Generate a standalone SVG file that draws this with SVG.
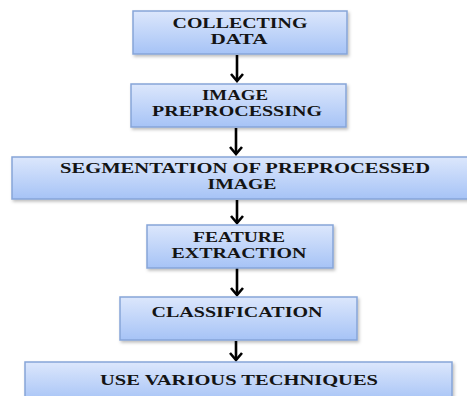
<svg xmlns="http://www.w3.org/2000/svg" width="467" height="396" viewBox="0 0 467 396">
<defs>
<linearGradient id="g" x1="0" y1="0" x2="0" y2="1">
<stop offset="0" stop-color="#dce7fc"/>
<stop offset="1" stop-color="#a6c3f6"/>
</linearGradient>
<filter id="sh" x="-5%" y="-10%" width="110%" height="130%">
<feDropShadow dx="1.5" dy="2" stdDeviation="1.5" flood-color="#000" flood-opacity="0.25"/>
</filter>
</defs>
<style>
.box{fill:url(#g);stroke:#86a5d8;stroke-width:1.5;filter:url(#sh)}
.t{font-family:"Liberation Serif","Times New Roman",serif;font-weight:bold;font-size:14px;fill:#141414;text-anchor:middle}
.c{stroke:#000;stroke-width:2.6;fill:none}
.h{stroke:#000;stroke-width:2.6;fill:none;stroke-linejoin:miter}
</style>
<rect width="467" height="396" fill="#fff"/>
<g id="connectors">
<line class="c" x1="237" y1="55" x2="237" y2="81"/>
<path class="h" d="M231,74 L237,81 L243,74"/>
<line class="c" x1="236" y1="128" x2="236" y2="154"/>
<path class="h" d="M230,147 L236,154 L242,147"/>
<line class="c" x1="237" y1="200" x2="237" y2="223"/>
<path class="h" d="M231,216 L237,223 L243,216"/>
<line class="c" x1="237" y1="268" x2="237" y2="295"/>
<path class="h" d="M231,288 L237,295 L243,288"/>
<line class="c" x1="236" y1="341" x2="236" y2="360"/>
<path class="h" d="M230,353 L236,360 L242,353"/>
</g>
<g id="n1">
<rect class="box" x="133" y="11" width="214" height="43"/>
<text class="t" x="240" y="28" textLength="135" lengthAdjust="spacingAndGlyphs">COLLECTING</text>
<text class="t" x="239" y="44" textLength="57" lengthAdjust="spacingAndGlyphs">DATA</text>
</g>
<g id="n2">
<rect class="box" x="131" y="84" width="215" height="43"/>
<text class="t" x="235" y="100" textLength="66" lengthAdjust="spacingAndGlyphs">IMAGE</text>
<text class="t" x="237" y="116" textLength="170" lengthAdjust="spacingAndGlyphs">PREPROCESSING</text>
</g>
<g id="n3">
<rect class="box" x="12" y="157" width="460" height="42"/>
<text class="t" x="245" y="173" textLength="370" lengthAdjust="spacingAndGlyphs">SEGMENTATION OF PREPROCESSED</text>
<text class="t" x="242" y="189" textLength="69" lengthAdjust="spacingAndGlyphs">IMAGE</text>
</g>
<g id="n4">
<rect class="box" x="147" y="225" width="186" height="43"/>
<text class="t" x="239" y="242" textLength="92" lengthAdjust="spacingAndGlyphs">FEATURE</text>
<text class="t" x="239" y="258" textLength="135" lengthAdjust="spacingAndGlyphs">EXTRACTION</text>
</g>
<g id="n5">
<rect class="box" x="120" y="297" width="237" height="43"/>
<text class="t" x="237" y="317" textLength="171" lengthAdjust="spacingAndGlyphs">CLASSIFICATION</text>
</g>
<g id="n6">
<rect class="box" x="25" y="362" width="427" height="40"/>
<text class="t" x="239" y="385" textLength="278" lengthAdjust="spacingAndGlyphs">USE VARIOUS TECHNIQUES</text>
</g>
</svg>
